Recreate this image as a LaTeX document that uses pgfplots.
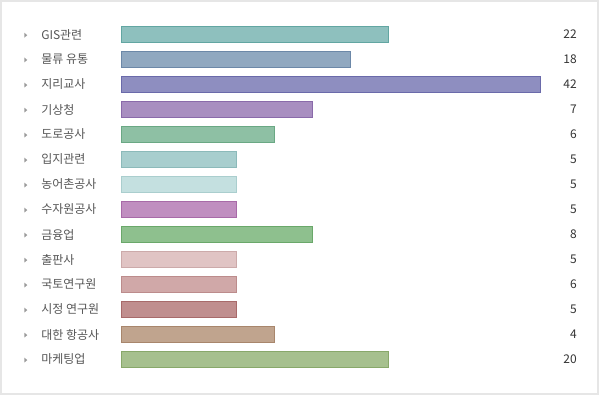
\documentclass[border=0pt]{standalone}
\usepackage{pgfplots}
\pgfplotsset{compat=1.18}
\usepackage{fontspec}
\setmainfont{Noto Sans CJK KR}
\definecolor{labelgray}{HTML}{555555}
\definecolor{numgray}{HTML}{333333}
\definecolor{bulletgray}{HTML}{9A9A9A}
\definecolor{framegray}{HTML}{E6E6E6}
\definecolor{c1}{HTML}{8EC0BE}\definecolor{e1}{HTML}{62A6A2}
\definecolor{c2}{HTML}{90A8C0}\definecolor{e2}{HTML}{6C88A8}
\definecolor{c3}{HTML}{8E8EC0}\definecolor{e3}{HTML}{6A6AAA}
\definecolor{c4}{HTML}{A88EC0}\definecolor{e4}{HTML}{8A6AAA}
\definecolor{c5}{HTML}{8EC0A4}\definecolor{e5}{HTML}{6AA884}
\definecolor{c6}{HTML}{A8CECE}\definecolor{e6}{HTML}{8CBABA}
\definecolor{c7}{HTML}{C4E0E0}\definecolor{e7}{HTML}{AACECE}
\definecolor{c8}{HTML}{C08EC0}\definecolor{e8}{HTML}{A86AA8}
\definecolor{c9}{HTML}{8EC08E}\definecolor{e9}{HTML}{6AA86A}
\definecolor{c10}{HTML}{E0C4C4}\definecolor{e10}{HTML}{CCAAAA}
\definecolor{c11}{HTML}{D0A8A8}\definecolor{e11}{HTML}{BC8C8C}
\definecolor{c12}{HTML}{C08E8E}\definecolor{e12}{HTML}{A86A6A}
\definecolor{c13}{HTML}{C0A48E}\definecolor{e13}{HTML}{A8866C}
\definecolor{c14}{HTML}{A6C08E}\definecolor{e14}{HTML}{88A86A}
\newcommand{\tri}{\tikz[baseline=-0.6ex]\fill[bulletgray] (0,-1.875pt)--(0,1.875pt)--(2.25pt,0)--cycle;}
\newcommand{\lab}[1]{\tri\hspace{10.5pt}#1}
\begin{document}
\begin{tikzpicture}
\draw[framegray, line width=0.9pt] (0.75pt,4.5pt) rectangle (448.5pt,299.25pt);
\begin{axis}[
  at={(91.5pt,21pt)}, anchor=south west,
  scale only axis, width=313.5pt, height=262.5pt,
  xmin=0, xmax=11, ymin=0.5, ymax=14.5, y dir=reverse,
  axis line style={draw=none}, xtick=\empty,
  ytick={1,...,14}, major tick length=0pt,
  yticklabels={\lab{GIS관련},\lab{물류 유통},\lab{지리교사},\lab{기상청},\lab{도로공사},\lab{입지관련},\lab{농어촌공사},\lab{수자원공사},\lab{금융업},\lab{출판사},\lab{국토연구원},\lab{시정 연구원},\lab{대한 항공사},\lab{마케팅업}},
  yticklabel style={anchor=west, inner sep=0pt, xshift=-73.5pt, font=\fontsize{9}{10}\selectfont, text=labelgray},
  xbar, bar width=12.5pt, clip=false,
  every axis plot/.append style={bar shift=0pt, line width=0.75pt},
]
\addplot[fill=c1, draw=e1] coordinates {(7,1)};
\addplot[fill=c2, draw=e2] coordinates {(6,2)};
\addplot[fill=c3, draw=e3] coordinates {(11,3)};
\addplot[fill=c4, draw=e4] coordinates {(5,4)};
\addplot[fill=c5, draw=e5] coordinates {(4,5)};
\addplot[fill=c6, draw=e6] coordinates {(3,6)};
\addplot[fill=c7, draw=e7] coordinates {(3,7)};
\addplot[fill=c8, draw=e8] coordinates {(3,8)};
\addplot[fill=c9, draw=e9] coordinates {(5,9)};
\addplot[fill=c10, draw=e10] coordinates {(3,10)};
\addplot[fill=c11, draw=e11] coordinates {(3,11)};
\addplot[fill=c12, draw=e12] coordinates {(3,12)};
\addplot[fill=c13, draw=e13] coordinates {(4,13)};
\addplot[fill=c14, draw=e14] coordinates {(7,14)};
\end{axis}
\begin{axis}[
  at={(91.5pt,21pt)}, anchor=south west,
  scale only axis, width=313.5pt, height=262.5pt,
  xmin=0, xmax=11, ymin=0.5, ymax=14.5, y dir=reverse,
  axis line style={draw=none}, xtick=\empty,
  ytick={1,...,14}, major tick length=0pt,
  yticklabel pos=right,
  yticklabels={22,18,42,7,6,5,5,5,8,5,6,5,4,20},
  yticklabel style={anchor=east, inner sep=0pt, xshift=27.75pt, font=\fontsize{9}{10}\selectfont, text=numgray},
]
\end{axis}
\pgfresetboundingbox
\path (0,0) rectangle (450pt,300pt);
\end{tikzpicture}
\end{document}
